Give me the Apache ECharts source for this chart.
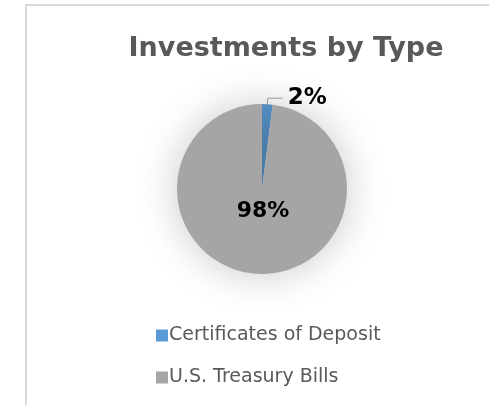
<!DOCTYPE html>
<html>
<head>
<meta charset="utf-8">
<script src="https://cdn.jsdelivr.net/npm/echarts@6/dist/echarts.min.js"></script>
<style>
  html, body { margin: 0; padding: 0; background: #fff; overflow: hidden; }
  #chart { width: 489px; height: 405px; }
</style>
</head>
<body>
<div id="chart"></div>
<script>
const categories = ["Certificates of Deposit", "U.S. Treasury Bills"];
const shares = [2, 98];
const colors = ["#5B9BD5", "#A5A5A5"];

const chart = echarts.init(document.getElementById("chart"));

const option = {
  animation: false,
  color: colors,
  title: {
    text: "Investments by Type",
    left: 281,
    top: 30,
    textAlign: "center",
    textStyle: {
      fontFamily: "DejaVu Sans",
      fontSize: 27,
      fontWeight: "bold",
      color: "#595959",
    },
  },
  legend: {
    orient: "vertical",
    left: 151,
    top: 321,
    itemWidth: 12,
    itemHeight: 12,
    itemGap: 23,
    icon: "rect",
    data: categories,
    textStyle: {
      fontFamily: "DejaVu Sans",
      fontSize: 19,
      color: "#595959",
      padding: [0, 0, 0, -4],
    },
  },
  graphic: [
    {
      type: "polyline",
      shape: { points: [[26, 420], [26, 5], [500, 5]] },
      style: { fill: "none", stroke: "#d9d9d9", lineWidth: 2 },
      z: -1,
    },
  ],
  series: [
    {
      type: "pie",
      center: [262, 189],
      radius: 85,
      startAngle: 90,
      clockwise: true,
      itemStyle: {
        shadowBlur: 40,
        shadowColor: "rgba(0,0,0,0.22)",
      },
      label: {
        formatter: "{d}%",
        fontFamily: "DejaVu Sans",
        fontSize: 22,
        fontWeight: "bold",
        color: "#000",
      },
      labelLine: {
        lineStyle: { color: "#A5A5A5", width: 1 },
      },
      data: categories.map((name, i) => {
        const item = { name: name, value: shares[i] };
        if (i === 0) {
          item.label = { position: "outside", distanceToLabelLine: 5, fontSize: 23 };
          item.labelLine = { show: true, length: 6, length2: 15 };
        } else {
          item.label = { position: "center", offset: [1, 22] };
        }
        return item;
      }),
    },
  ],
};

chart.setOption(option);
</script>
</body>
</html>
